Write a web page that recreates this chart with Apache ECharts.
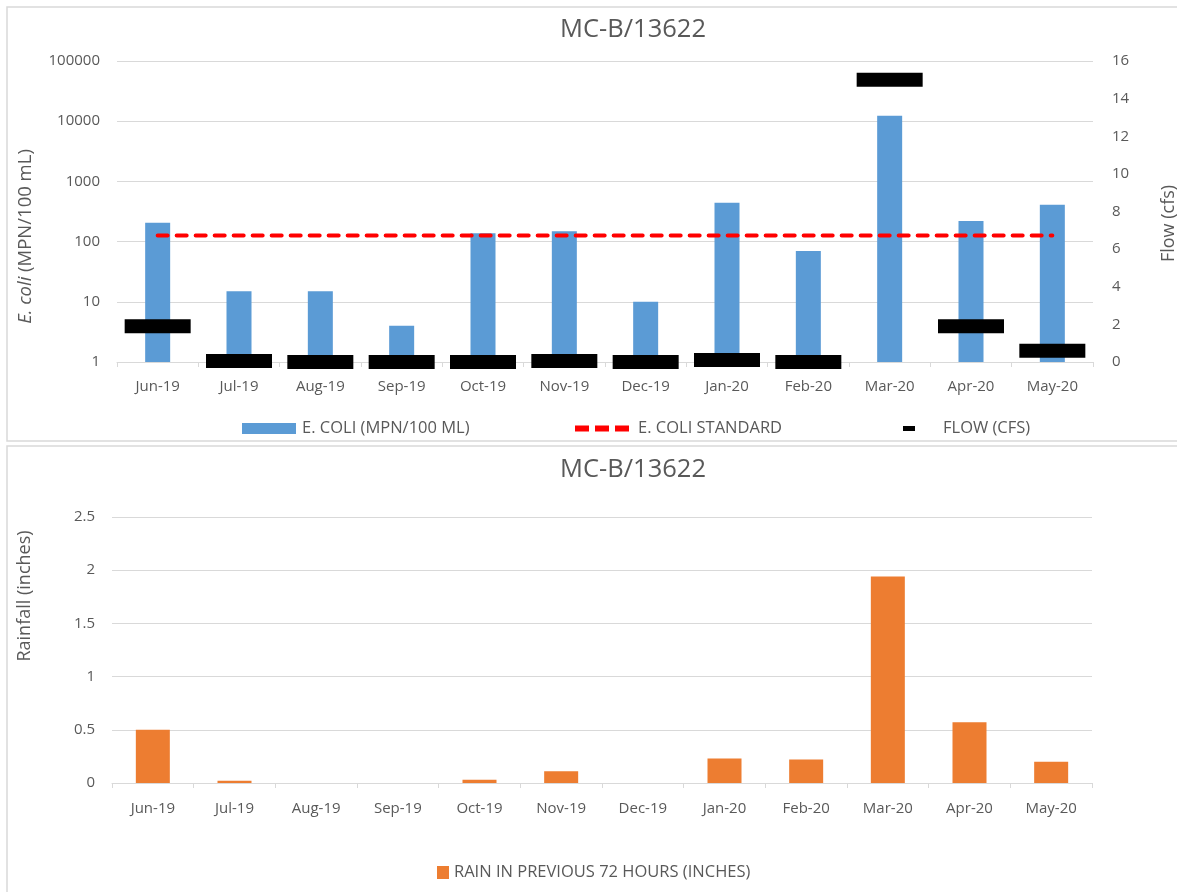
<!DOCTYPE html>
<html>
<head>
<meta charset="utf-8">
<script src="https://cdn.jsdelivr.net/npm/echarts@6/dist/echarts.min.js"></script>
<style>
html,body{margin:0;padding:0;background:#fff;}
#chart{width:1177px;height:892px;}
</style>
</head>
<body>
<div id="chart"></div>
<script>
const months = ['Jun-19','Jul-19','Aug-19','Sep-19','Oct-19','Nov-19','Dec-19','Jan-20','Feb-20','Mar-20','Apr-20','May-20'];
const ecoli = [205, 15, 15, 4, 138, 148, 10, 440, 70, 12300, 220, 410];
const ecoliStandard = [126, 126, 126, 126, 126, 126, 126, 126, 126, 126, 126, 126];
const flow = [1.9, 0.05, 0, 0, 0, 0.05, 0, 0.1, 0, 15, 1.9, 0.6];
const rain = [0.5, 0.02, 0, 0, 0.03, 0.11, 0, 0.23, 0.22, 1.94, 0.57, 0.2];
const chartTitle = 'MC-B/13622';

const FONT = 'Open Sans';
const TXT = '#595959';
const GRIDC = '#d9d9d9';

const chart = echarts.init(document.getElementById('chart'), null, {renderer: 'canvas'});

const catAxis = (gridIndex, margin) => ({
  type: 'category', gridIndex, data: months,
  axisLine: {show: true, lineStyle: {color: GRIDC, width: 1}},
  axisTick: {show: true, length: 5, lineStyle: {color: GRIDC}},
  axisLabel: {color: TXT, fontFamily: FONT, fontSize: 15, margin: margin},
  splitLine: {show: false}
});

const legendText = (pad) => ({color: TXT, fontFamily: FONT, fontSize: 16.5, padding: pad});

const option = {
  animation: false,
  backgroundColor: '#fff',
  graphic: [
    {type: 'rect', shape: {x: 7, y: 7, width: 1200, height: 434}, style: {fill: 'none', stroke: GRIDC, lineWidth: 1.5}, silent: true},
    {type: 'rect', shape: {x: 7, y: 446, width: 1200, height: 480}, style: {fill: 'none', stroke: GRIDC, lineWidth: 1.5}, silent: true},
    {type: 'text', x: 633, y: 30, style: {text: chartTitle, fill: TXT, font: '25.5px "Open Sans"', textAlign: 'center', textVerticalAlign: 'middle'}},
    {type: 'text', x: 633, y: 470, style: {text: chartTitle, fill: TXT, font: '25.5px "Open Sans"', textAlign: 'center', textVerticalAlign: 'middle'}}
  ],
  legend: [
    {data: ['E. COLI (MPN/100 ML)'], left: 242, top: 420, padding: 0, icon: 'rect', itemWidth: 54, itemHeight: 11,
     textStyle: legendText([0, 0, 0, 1]), selectedMode: false},
    {data: ['E. COLI STANDARD'], left: 575, top: 420, padding: 0, icon: 'path://M0,0h14v6h-14z M20,0h14v6h-14z M40,0h14v6h-14z', itemWidth: 54, itemHeight: 6,
     textStyle: legendText([0, 0, 0, 4]), selectedMode: false},
    {data: ['FLOW (CFS)'], left: 903, top: 420, padding: 0, icon: 'rect', itemWidth: 12, itemHeight: 5,
     textStyle: legendText([0, 0, 0, 23]), selectedMode: false},
    {data: ['RAIN IN PREVIOUS 72 HOURS (INCHES)'], left: 437, top: 864, padding: 0, icon: 'rect', itemWidth: 12, itemHeight: 13,
     textStyle: legendText([0, 0, 0, 0]), selectedMode: false}
  ],
  grid: [
    {left: 117, right: 84, top: 61, bottom: 530, containLabel: false, outerBoundsMode: 'none'},
    {left: 112, right: 85, top: 517, bottom: 109, containLabel: false, outerBoundsMode: 'none'}
  ],
  xAxis: [catAxis(0, 17), catAxis(1, 18)],
  yAxis: [
    {type: 'log', gridIndex: 0, min: 1, max: 100000, logBase: 10,
     name: '{i|E. coli} (MPN/100 mL)', nameLocation: 'middle', nameGap: 82, nameRotate: 90,
     nameTextStyle: {color: TXT, fontFamily: FONT, fontSize: 18.5, padding: [0, 50, 0, 0],
       rich: {i: {fontStyle: 'italic', color: TXT, fontFamily: FONT, fontSize: 18.5}}},
     axisLine: {show: false}, axisTick: {show: false},
     axisLabel: {color: TXT, fontFamily: FONT, fontSize: 15, margin: 17, formatter: v => String(Math.round(v))},
     splitLine: {show: true, lineStyle: {color: GRIDC, width: 1}}},
    {type: 'value', gridIndex: 0, min: 0, max: 16, interval: 2, position: 'right',
     name: 'Flow (cfs)', nameLocation: 'middle', nameGap: 67, nameRotate: 90,
     nameTextStyle: {color: TXT, fontFamily: FONT, fontSize: 18, padding: [0, 24, 0, 0]},
     axisLine: {show: false}, axisTick: {show: false},
     axisLabel: {color: TXT, fontFamily: FONT, fontSize: 15, margin: 19},
     splitLine: {show: false}},
    {type: 'value', gridIndex: 1, min: 0, max: 2.5, interval: 0.5,
     name: 'Rainfall (inches)', nameLocation: 'middle', nameGap: 78, nameRotate: 90,
     nameTextStyle: {color: TXT, fontFamily: FONT, fontSize: 18, padding: [0, 0, 0, 108]},
     axisLine: {show: false}, axisTick: {show: false},
     axisLabel: {color: TXT, fontFamily: FONT, fontSize: 15, margin: 17},
     splitLine: {show: true, lineStyle: {color: GRIDC, width: 1}}}
  ],
  series: [
    {name: 'E. COLI (MPN/100 ML)', type: 'bar', xAxisIndex: 0, yAxisIndex: 0, data: ecoli, barWidth: 25,
     itemStyle: {color: '#5B9BD5'}},
    {name: 'E. COLI STANDARD', type: 'line', xAxisIndex: 0, yAxisIndex: 0, data: ecoliStandard, symbol: 'none',
     itemStyle: {color: '#FF0000'},
     lineStyle: {color: '#FF0000', width: 4, type: [10, 9], cap: 'round'}, z: 3},
    {name: 'FLOW (CFS)', type: 'scatter', xAxisIndex: 0, yAxisIndex: 1, data: flow, symbol: 'rect', symbolSize: [66, 14],
     itemStyle: {color: '#000000', opacity: 1}, z: 4},
    {name: 'RAIN IN PREVIOUS 72 HOURS (INCHES)', type: 'bar', xAxisIndex: 1, yAxisIndex: 2, data: rain, barWidth: 34,
     itemStyle: {color: '#ED7D31'}}
  ]
};
chart.setOption(option);
</script>
</body>
</html>
